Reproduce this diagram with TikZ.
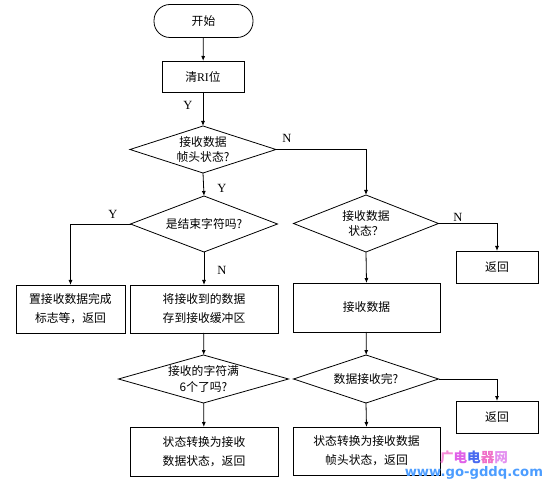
\documentclass[tikz,border=0pt]{standalone}
\usepackage{fontspec}
\setmainfont{Liberation Serif}
\newfontfamily\cjk{Noto Sans CJK SC}
\newfontfamily\wmfont{DejaVu Sans}
\usetikzlibrary{shapes.geometric,arrows.meta}
\begin{document}
\begin{tikzpicture}[x=1pt,y=-1pt,
  every node/.style={inner sep=0pt, outer sep=0pt},
  box/.style={draw, line width=0.8pt, rectangle, align=center, font=\cjk\fontsize{11.8}{19}\selectfont},
  dia/.style={draw, line width=0.8pt, diamond},
  diatext/.style={align=center, font=\cjk\fontsize{11.8}{15.5}\selectfont},
  conn/.style={line width=0.8pt, -{Latex[length=5pt,width=4pt]}},
  yn/.style={font=\fontsize{12.5}{12.5}\selectfont}
]
\useasboundingbox (0,0) rectangle (549,486);
\fill[white] (0,0) rectangle (549,486);

% nodes
\node[box, rounded corners=16pt, minimum width=99, minimum height=33] (start) at (203.5,21) {开始};
\node[box, minimum width=82, minimum height=31] (clr) at (203,76.5) {清{\rmfamily RI}位};

\node[dia, minimum width=146, minimum height=47] (d1) at (203,149.5) {};
\node[diatext] (t1) at (d1.center) {接收数据\\帧头状态?};

\node[dia, minimum width=147, minimum height=56] (d2) at (204,224) {};
\node[diatext] (t2) at (d2.center) {是结束字符吗?};

\node[box, minimum width=109, minimum height=48] (bl) at (70.5,309) {置接收数据完成\\标志等，返回};
\node[box, minimum width=148, minimum height=48] (bm) at (204,309) {将接收到的数据\\存到接收缓冲区};

\node[dia, minimum width=170, minimum height=48] (d3) at (203.5,379) {};
\node[diatext] (t3) at (d3.center) {接收的字符满\\6个了吗?};

\node[box, minimum width=148, minimum height=49] (b6) at (204,451.5) {状态转换为接收\\数据状态，返回};

\node[dia, minimum width=145, minimum height=57] (d4) at (366,223.5) {};
\node[diatext] (t4) at (d4.center) {接收数据\\状态？};

\node[box, minimum width=82, minimum height=32] (r1) at (497,267) {返回};
\node[box, minimum width=147, minimum height=49] (rv) at (366.5,307.5) {接收数据};

\node[dia, minimum width=145, minimum height=48] (d5) at (366,379) {};
\node[diatext] (t5) at (d5.center) {数据接收完?};

\node[box, minimum width=82, minimum height=32] (r2) at (497,417) {返回};
\node[box, minimum width=147, minimum height=48] (bf) at (366.5,451) {状态转换为接收数据\\帧头状态，返回};

% connectors
\draw[conn] (start) -- (clr);
\draw[conn] (clr) -- (d1);
\draw[conn] (d1.south) -- (d2.north);
\draw[conn] (d1.east) -| (d4.north);
\draw[conn] (d2.west) -| (bl.north);
\draw[conn] (d2.south) -- (bm.north);
\draw[conn] (bm) -- (d3);
\draw[conn] (d3) -- (b6);
\draw[conn] (d4.east) -| (r1.north);
\draw[conn] (d4.south) -- (rv.north);
\draw[conn] (rv) -- (d5);
\draw[conn] (d5.east) -| (r2.north);
\draw[conn] (d5.south) -- (bf.north);

% labels
\node[yn] (y1) at (188,105) {Y};
\node[yn] (y2) at (222,188) {Y};
\node[yn] (n1) at (287,138) {N};
\node[yn] (y3) at (113,214) {Y};
\node[yn] (n2) at (222,270) {N};
\node[yn] (n3) at (458,217) {N};

% watermark
\node[font=\cjk\bfseries\fontsize{13.6}{14}\selectfont, anchor=west] (wm1) at (440,457)
  {\textcolor[HTML]{F58AD8}{广}\textcolor[HTML]{E060E8}{电}\textcolor[HTML]{4A6AF0}{电}\textcolor[HTML]{F070C8}{器}\textcolor[HTML]{E490F0}{网}};
\node[font=\wmfont\bfseries\fontsize{13.2}{14}\selectfont, text=blue!55!cyan!70!white, anchor=east] (wm2) at (543,473) {www.go-gddq.com};
\end{tikzpicture}
\end{document}
